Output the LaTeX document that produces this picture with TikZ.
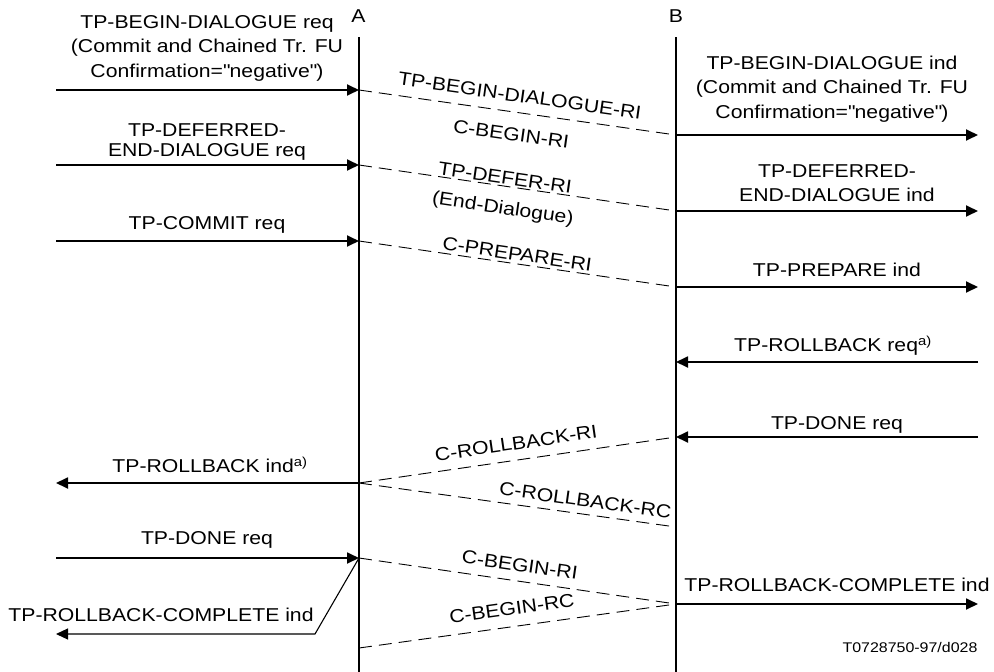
\documentclass[tikz,border=0pt]{standalone}
\usepackage{fontspec}
\setmainfont{Liberation Sans}[FakeStretch=1.14]
\usetikzlibrary{arrows.meta,positioning}

\begin{document}
\begin{tikzpicture}[
  x=1pt, y=-1pt,
  font=\fontsize{18.6}{24.5}\selectfont,
  life/.style={line width=1.8pt},
  msg/.style={line width=1.8pt,-{Triangle[length=12pt,width=11pt]}},
  thinmsg/.style={line width=1.1pt,-{Triangle[length=12pt,width=11pt]}},
  pdu/.style={line width=0.9pt,dash pattern=on 13pt off 7pt},
  lbl/.style={inner sep=0pt,text depth=0pt,anchor=south,align=center},
  slbl/.style={inner sep=0pt,text depth=0pt,anchor=south,sloped}
]
\useasboundingbox (0,0) rectangle (994,672);

% lifelines
\node[lbl] (nameA) at (358.5,23) {A};
\node[lbl] (nameB) at (676,23) {B};
\coordinate (Atop) at (359,37);  \coordinate (Abot) at (359,672);
\coordinate (Btop) at (676,37);  \coordinate (Bbot) at (676,672);
\draw[life] (Atop) -- (Abot);
\draw[life] (Btop) -- (Bbot);

% points on A
\coordinate (a1) at (359,90);
\coordinate (a2) at (359,165);
\coordinate (a3) at (359,241);
\coordinate (a4) at (359,483);
\coordinate (a5) at (359,558);
\coordinate (a6) at (359,648);
% points on B
\coordinate (b1) at (676,135);
\coordinate (b2) at (676,211);
\coordinate (b3) at (676,287);
\coordinate (b4) at (676,362);
\coordinate (b5) at (676,437);
\coordinate (b6) at (676,527);
\coordinate (b7) at (676,604);
% free ends
\coordinate (l1) at (56,90);
\coordinate (l2) at (56,165);
\coordinate (l3) at (56,241);
\coordinate (l4) at (56,483);
\coordinate (l5) at (56,558);
\coordinate (l6) at (56,634);
\coordinate (k6) at (315,634);
\coordinate (r1) at (978,135);
\coordinate (r2) at (978,211);
\coordinate (r3) at (978,287);
\coordinate (r4) at (978,362);
\coordinate (r5) at (978,437);
\coordinate (r7) at (978,604);

% primitives at A
\node[lbl] (beginreq) at (207,77.3) {TP-BEGIN-DIALOGUE req\\(Commit and Chained Tr. FU\\Confirmation=\textquotedbl negative\textquotedbl)};
\node[lbl] (deferreq) at (207,156.7) {TP-DEFERRED-\\[-4.5pt]END-DIALOGUE req};
\node[lbl] (commitreq) at (207,230) {TP-COMMIT req};
\node[lbl] (rbind) at (210,472.7) {TP-ROLLBACK ind\textsuperscript{a)}};
\node[lbl] (donereqA) at (207,545) {TP-DONE req};
\node[lbl] (rbcompA) at (161,621.7) {TP-ROLLBACK-COMPLETE ind};

\draw[msg] (l1) -- (a1);
\draw[msg] (l2) -- (a2);
\draw[msg] (l3) -- (a3);
\draw[msg] (a4) -- (l4);
\draw[msg] (l5) -- (a5);
\draw[thinmsg] (a5) -- (k6) -- (l6);

% primitives at B
\node[lbl] (beginind) at (832,118.3) {TP-BEGIN-DIALOGUE ind\\(Commit and Chained Tr. FU\\Confirmation=\textquotedbl negative\textquotedbl)};
\node[lbl] (deferind) at (837,201.7) {TP-DEFERRED-\\END-DIALOGUE ind};
\node[lbl] (prepind) at (837,276.7) {TP-PREPARE ind};
\node[lbl] (rbreq) at (833,351.7) {TP-ROLLBACK req\textsuperscript{a)}};
\node[lbl] (donereqB) at (837,430) {TP-DONE req};
\node[lbl] (rbcompB) at (837,592) {TP-ROLLBACK-COMPLETE ind};

\draw[msg] (b1) -- (r1);
\draw[msg] (b2) -- (r2);
\draw[msg] (b3) -- (r3);
\draw[msg] (r4) -- (b4);
\draw[msg] (r5) -- (b5);
\draw[msg] (b7) -- (r7);

% APDUs
\draw[pdu] (a1) -- node[slbl,pos=0.5,yshift=10pt] (bdri) {TP-BEGIN-DIALOGUE-RI}
                   node[slbl,pos=0.49,yshift=-29pt] (cbri1) {C-BEGIN-RI} (b1);
\draw[pdu] (a2) -- node[slbl,pos=0.457,yshift=1.5pt] (dfri) {TP-DEFER-RI}
                   node[slbl,pos=0.464,yshift=-28.5pt] (enddlg) {(End-Dialogue)} (b2);
\draw[pdu] (a3) -- node[slbl,pos=0.495,yshift=3pt] (cpri) {C-PREPARE-RI} (b3);
\draw[pdu] (a4) -- node[slbl,pos=0.503,yshift=10pt] (crbri) {C-ROLLBACK-RI} (b5);
\draw[pdu] (a4) -- node[slbl,pos=0.708,yshift=7pt] (crbrc) {C-ROLLBACK-RC} (b6);
\draw[pdu] (a5) -- node[slbl,pos=0.5,yshift=9.3pt] (cbri2) {C-BEGIN-RI} (b7);
\draw[pdu] (a6) -- node[slbl,pos=0.49,yshift=11.5pt] (cbrc) {C-BEGIN-RC} (b7);

\node[lbl,font=\fontsize{14}{16}\selectfont] (figid) at (910,653) {T0728750-97/d028};
\end{tikzpicture}
\end{document}
